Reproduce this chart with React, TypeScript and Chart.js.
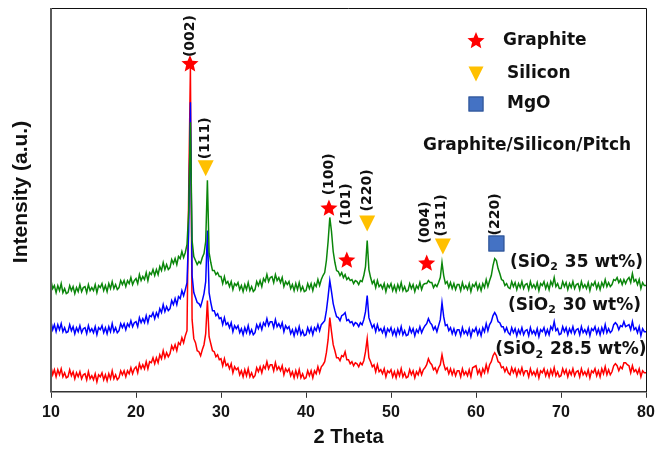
import React, { useEffect, useRef } from 'react';
import { Chart, registerables } from 'chart.js';

Chart.register(...registerables);

// 2-theta sampling: first angle and step (degrees)
const START_ANGLE = 10;
const STEP = 0.2;

// Intensities (a.u., offset traces as plotted), one value per 0.2 deg from 10 to 80
const redCounts = [
  25, 17, 22, 15, 22, 17, 23, 15, 19, 14,
  15, 22, 16, 20, 13, 19, 15, 20, 13, 17,
  18, 12, 20, 13, 16, 12, 18, 10, 17, 15,
  19, 12, 17, 11, 18, 13, 21, 13, 17, 12,
  14, 21, 17, 21, 15, 21, 18, 24, 18, 23,
  25, 19, 28, 23, 27, 23, 30, 23, 30, 29,
  34, 28, 34, 29, 37, 33, 41, 34, 39, 35,
  38, 46, 42, 47, 41, 49, 47, 54, 49, 56,
  61, 200, 323, 72, 53, 49, 41, 40, 36, 42,
  47, 58, 91, 55, 48, 41, 40, 35, 37, 32,
  33, 26, 33, 26, 28, 23, 28, 19, 25, 22,
  24, 17, 21, 15, 22, 16, 23, 15, 19, 14,
  16, 24, 20, 25, 19, 26, 23, 30, 23, 27,
  27, 21, 29, 22, 25, 21, 26, 17, 23, 20,
  23, 16, 20, 14, 21, 15, 22, 14, 18, 13,
  14, 21, 16, 21, 14, 21, 18, 25, 19, 25,
  27, 30, 39, 52, 74, 60, 47, 41, 34, 34,
  31, 36, 35, 40, 32, 32, 28, 30, 26, 29,
  28, 25, 29, 27, 31, 40, 53, 34, 30, 25,
  27, 20, 27, 20, 22, 18, 23, 15, 21, 19,
  22, 15, 20, 14, 21, 16, 23, 15, 19, 14,
  15, 22, 17, 21, 14, 20, 17, 23, 17, 22,
  24, 27, 33, 29, 27, 22, 24, 19, 24, 27,
  37, 28, 22, 24, 18, 23, 17, 22, 16, 21,
  21, 15, 23, 17, 20, 16, 22, 15, 24, 25,
  26, 18, 22, 16, 23, 19, 27, 20, 27, 30,
  36, 39, 36, 30, 29, 24, 25, 20, 24, 19,
  17, 24, 19, 23, 16, 22, 18, 24, 17, 21,
  21, 15, 23, 17, 20, 16, 22, 14, 21, 19,
  23, 16, 21, 15, 22, 17, 24, 16, 20, 15,
  16, 23, 18, 22, 15, 21, 17, 23, 16, 20,
  21, 15, 23, 17, 20, 16, 22, 14, 21, 19,
  23, 16, 21, 15, 23, 18, 25, 17, 22, 17,
  20, 26, 28, 26, 21, 25, 23, 29, 29, 27,
  26, 19, 26, 20, 22, 18, 23, 15, 21, 19,
  19,
];

const blueCounts = [
  70, 62, 67, 60, 67, 62, 68, 60, 64, 59,
  60, 67, 61, 65, 58, 64, 60, 66, 59, 63,
  64, 58, 66, 60, 63, 59, 65, 57, 64, 62,
  66, 59, 64, 58, 65, 60, 68, 60, 64, 59,
  61, 68, 64, 68, 62, 68, 65, 71, 65, 69,
  70, 65, 74, 69, 73, 69, 76, 69, 76, 75,
  79, 73, 79, 75, 83, 79, 87, 80, 85, 81,
  83, 91, 87, 93, 87, 95, 93, 101, 96, 102,
  109, 160, 289, 116, 99, 94, 89, 88, 85, 91,
  98, 110, 161, 99, 89, 81, 81, 76, 78, 73,
  74, 67, 74, 67, 69, 64, 69, 60, 66, 63,
  66, 59, 63, 57, 64, 59, 66, 58, 62, 57,
  59, 67, 63, 68, 62, 69, 66, 73, 66, 70,
  70, 64, 72, 65, 68, 64, 69, 60, 66, 63,
  65, 58, 62, 56, 63, 58, 65, 57, 61, 56,
  57, 64, 59, 64, 57, 64, 61, 67, 61, 67,
  69, 71, 81, 95, 111, 100, 88, 81, 75, 74,
  71, 76, 77, 79, 71, 72, 69, 70, 66, 69,
  68, 65, 69, 67, 72, 80, 96, 74, 69, 64,
  67, 60, 67, 61, 63, 59, 64, 56, 63, 60,
  64, 57, 62, 56, 63, 58, 65, 57, 61, 56,
  57, 64, 59, 63, 56, 62, 59, 65, 59, 63,
  66, 68, 73, 69, 67, 62, 65, 60, 66, 72,
  89, 75, 66, 67, 61, 64, 58, 63, 57, 62,
  62, 56, 64, 58, 61, 57, 63, 55, 62, 60,
  64, 57, 62, 56, 64, 60, 68, 61, 67, 70,
  76, 79, 76, 70, 69, 65, 65, 60, 64, 59,
  57, 64, 59, 63, 56, 62, 58, 64, 57, 61,
  62, 56, 64, 58, 61, 57, 63, 55, 62, 60,
  64, 57, 62, 57, 65, 62, 70, 61, 63, 57,
  58, 65, 60, 64, 57, 63, 59, 65, 58, 62,
  63, 57, 65, 59, 62, 58, 64, 56, 63, 61,
  65, 58, 63, 57, 64, 59, 67, 59, 63, 59,
  61, 67, 69, 67, 62, 66, 65, 70, 65, 66,
  67, 62, 70, 62, 64, 59, 65, 56, 63, 60,
  60,
];

const greenCounts = [
  111, 103, 106, 99, 106, 101, 108, 99, 103, 98,
  99, 106, 101, 105, 98, 104, 100, 107, 100, 104,
  105, 99, 107, 101, 104, 101, 107, 99, 106, 104,
  108, 101, 106, 100, 108, 103, 110, 103, 107, 102,
  104, 111, 107, 111, 105, 111, 108, 114, 107, 111,
  113, 108, 117, 111, 115, 112, 119, 111, 119, 117,
  122, 116, 122, 117, 125, 121, 129, 122, 127, 122,
  124, 132, 128, 133, 127, 135, 133, 140, 134, 139,
  147, 180, 269, 151, 135, 131, 127, 130, 128, 134,
  138, 150, 211, 139, 129, 121, 121, 117, 119, 115,
  115, 108, 115, 108, 110, 105, 110, 102, 108, 106,
  109, 102, 106, 100, 107, 102, 109, 101, 105, 100,
  102, 110, 106, 111, 105, 113, 110, 117, 110, 114,
  115, 109, 117, 111, 114, 109, 114, 105, 110, 107,
  110, 103, 107, 101, 108, 102, 109, 101, 105, 100,
  101, 108, 103, 108, 101, 108, 105, 112, 106, 112,
  116, 119, 131, 150, 174, 160, 140, 129, 121, 120,
  116, 119, 114, 117, 112, 114, 111, 112, 108, 111,
  110, 107, 111, 110, 116, 125, 151, 122, 114, 108,
  111, 104, 111, 105, 107, 103, 108, 100, 107, 104,
  108, 101, 106, 100, 107, 102, 109, 101, 105, 100,
  101, 108, 103, 107, 100, 106, 103, 109, 102, 107,
  108, 108, 111, 109, 109, 104, 107, 105, 109, 114,
  129, 116, 108, 110, 104, 109, 103, 108, 102, 107,
  107, 101, 109, 103, 106, 102, 108, 100, 107, 105,
  109, 102, 107, 101, 108, 104, 112, 105, 111, 116,
  126, 133, 131, 123, 118, 112, 111, 106, 108, 104,
  103, 110, 105, 109, 102, 108, 104, 110, 103, 107,
  108, 102, 110, 104, 107, 103, 109, 101, 108, 106,
  110, 103, 108, 102, 110, 106, 114, 105, 108, 103,
  103, 110, 105, 109, 102, 108, 104, 110, 103, 107,
  108, 102, 110, 104, 107, 103, 109, 101, 108, 106,
  110, 103, 108, 102, 109, 105, 112, 105, 109, 105,
  107, 112, 111, 114, 109, 112, 107, 112, 108, 112,
  114, 109, 118, 110, 112, 107, 112, 103, 109, 106,
  106,
];

const xTickValues = [10, 20, 30, 40, 50, 60, 70, 80];

// Series labels: text with subscript marked by |, left x (deg), centre y (a.u.)
const seriesLabelText = ['(SiO|2| 35 wt%)', '(SiO|2| 30 wt%)', '(SiO|2| 28.5 wt%)'];
const seriesLabelX = [64.0, 63.75, 62.25];
const seriesLabelY = [129, 86, 42];

// Phase markers [2theta, y]
const graphiteMarks = [[26.35, 327], [42.7, 183], [44.8, 131], [54.2, 128]];
const siliconMarks = [[28.2, 223], [47.2, 168], [56.1, 145]];
const mgoMarks = [[62.4, 148]];

// Miller index labels (rotated), centre positions
const hklText = ['(002)', '(111)', '(100)', '(101)', '(220)', '(004)', '(311)', '(220)'];
const hklX = [26.35, 28.2, 42.7, 44.8, 47.2, 54.1, 55.9, 62.3];
const hklY = [355, 253, 217, 187, 201, 169, 176, 177];

const legendItems = ['Graphite', 'Silicon', 'MgO'];
const legendTitle = 'Graphite/Silicon/Pitch';

const RED = '#ff0000';
const BLUE = '#0000ff';
const GREEN = '#0a860a';
const GOLD = '#ffc000';
const SQUARE = '#4472c4';

const LABEL_FONT = "'DejaVu Sans', 'Noto Sans', sans-serif";

function toPoints(values: number[]) {
  return values.map((v, i) => ({ x: START_ANGLE + i * STEP, y: v }));
}

function drawStar(ctx: CanvasRenderingContext2D, cx: number, cy: number, R: number) {
  const r = R * 0.45;
  ctx.beginPath();
  for (let k = 0; k < 10; k++) {
    const rad = k % 2 === 0 ? R : r;
    const a = -Math.PI / 2 + (k * Math.PI) / 5;
    const px = cx + rad * Math.cos(a);
    const py = cy + rad * Math.sin(a);
    if (k === 0) ctx.moveTo(px, py);
    else ctx.lineTo(px, py);
  }
  ctx.closePath();
  ctx.fillStyle = RED;
  ctx.fill();
}

function drawTriangle(ctx: CanvasRenderingContext2D, cx: number, cy: number, w: number, h: number) {
  ctx.beginPath();
  ctx.moveTo(cx - w / 2, cy - h / 2);
  ctx.lineTo(cx + w / 2, cy - h / 2);
  ctx.lineTo(cx, cy + h / 2);
  ctx.closePath();
  ctx.fillStyle = GOLD;
  ctx.fill();
}

function drawSquare(ctx: CanvasRenderingContext2D, cx: number, cy: number, s: number) {
  ctx.fillStyle = SQUARE;
  ctx.fillRect(cx - s / 2, cy - s / 2, s, s);
  ctx.strokeStyle = '#2f528f';
  ctx.lineWidth = 1;
  ctx.strokeRect(cx - s / 2 + 0.5, cy - s / 2 + 0.5, s - 1, s - 1);
}

const annotationPlugin = {
  id: 'xrdAnnotations',
  afterDraw(chart: any) {
    const { ctx, chartArea: a, scales } = chart;
    const xs = scales.x;
    const ys = scales.y;
    ctx.save();

    // frame: top & right thin black, left thicker grey
    ctx.strokeStyle = '#111';
    ctx.lineWidth = 1;
    ctx.beginPath();
    ctx.moveTo(a.left, a.top + 0.5);
    ctx.lineTo(a.right + 0.5, a.top + 0.5);
    ctx.lineTo(a.right + 0.5, a.bottom);
    ctx.stroke();
    ctx.strokeStyle = '#5a5a5a';
    ctx.lineWidth = 2;
    ctx.beginPath();
    ctx.moveTo(a.left, a.top);
    ctx.lineTo(a.left, a.bottom);
    ctx.stroke();

    // y-axis title
    ctx.save();
    ctx.translate(21, 192);
    ctx.rotate(-Math.PI / 2);
    ctx.fillStyle = '#111';
    ctx.font = "bold 21px 'Liberation Sans', Arial, sans-serif";
    ctx.textAlign = 'center';
    ctx.textBaseline = 'middle';
    ctx.fillText('Intensity (a.u.)', 0, 0);
    ctx.restore();

    // markers on peaks
    graphiteMarks.forEach(([gx, gy]) => drawStar(ctx, xs.getPixelForValue(gx), ys.getPixelForValue(gy), 9));
    siliconMarks.forEach(([sx, sy]) => drawTriangle(ctx, xs.getPixelForValue(sx), ys.getPixelForValue(sy), 16, 16));
    mgoMarks.forEach(([mx, my]) => drawSquare(ctx, xs.getPixelForValue(mx), ys.getPixelForValue(my), 16));

    // hkl labels
    ctx.fillStyle = '#111';
    ctx.font = `bold 14px ${LABEL_FONT}`;
    ctx.textAlign = 'center';
    ctx.textBaseline = 'middle';
    hklText.forEach((t, i) => {
      ctx.save();
      ctx.translate(xs.getPixelForValue(hklX[i]), ys.getPixelForValue(hklY[i]));
      ctx.rotate(-Math.PI / 2);
      ctx.fillText(t, 0, 0);
      ctx.restore();
    });

    // legend (inside plot, top right)
    const lx = 476;
    const legendY = [41, 74, 104];
    drawStar(ctx, lx, legendY[0], 9);
    drawTriangle(ctx, lx, legendY[1], 15, 15);
    drawSquare(ctx, lx, legendY[2], 15);
    ctx.font = `bold 17px ${LABEL_FONT}`;
    ctx.textAlign = 'left';
    ctx.textBaseline = 'middle';
    ctx.fillStyle = '#111';
    ctx.fillText(legendItems[0], 503, legendY[0]);
    ctx.fillText(legendItems[1], 507, legendY[1]);
    ctx.fillText(legendItems[2], 507, legendY[2]);
    ctx.fillText(legendTitle, 423, 146);

    // series labels with subscript
    seriesLabelText.forEach((t, i) => {
      const [pre, sub, post] = t.split('|');
      let px = xs.getPixelForValue(seriesLabelX[i]);
      const py = ys.getPixelForValue(seriesLabelY[i]);
      ctx.font = `bold 17px ${LABEL_FONT}`;
      ctx.fillText(pre, px, py);
      px += ctx.measureText(pre).width;
      ctx.font = `bold 11px ${LABEL_FONT}`;
      ctx.fillText(sub, px, py + 5);
      px += ctx.measureText(sub).width + 1;
      ctx.font = `bold 17px ${LABEL_FONT}`;
      ctx.fillText(post, px, py);
    });

    ctx.restore();
  },
};

export default function App() {
  const canvasRef = useRef<HTMLCanvasElement | null>(null);

  useEffect(() => {
    const canvas = canvasRef.current;
    if (!canvas) return;
    const chart = new Chart(canvas, {
      type: 'line',
      data: {
        datasets: [
          { label: 'SiO2 35 wt%', data: toPoints(greenCounts), borderColor: GREEN, borderWidth: 1.5, pointRadius: 0, tension: 0, fill: false },
          { label: 'SiO2 30 wt%', data: toPoints(blueCounts), borderColor: BLUE, borderWidth: 1.5, pointRadius: 0, tension: 0, fill: false },
          { label: 'SiO2 28.5 wt%', data: toPoints(redCounts), borderColor: RED, borderWidth: 1.5, pointRadius: 0, tension: 0, fill: false },
        ],
      },
      options: {
        responsive: false,
        animation: false,
        devicePixelRatio: 1,
        layout: { padding: { left: 51, right: 24, top: 8, bottom: 1 } },
        plugins: { legend: { display: false }, tooltip: { enabled: false } },
        scales: {
          x: {
            type: 'linear',
            min: 10,
            max: 80,
            afterBuildTicks: (scale: any) => {
              scale.ticks = xTickValues.map((v) => ({ value: v }));
            },
            grid: { drawOnChartArea: false, drawTicks: true, tickLength: 6, color: '#333', lineWidth: 1 },
            border: { display: true, color: '#333', width: 1.5 },
            ticks: {
              color: '#151515',
              padding: 5,
              maxRotation: 0,
              font: { family: "'Liberation Sans Narrow', 'Liberation Sans', Arial, sans-serif", size: 16, weight: 'bold' },
            },
            title: {
              display: true,
              text: '2 Theta',
              color: '#111',
              padding: { top: -2, bottom: 0 },
              font: { family: "'Liberation Sans', Arial, sans-serif", size: 20, weight: 'bold' },
            },
          },
          y: {
            display: false,
            min: 0,
            max: 383,
          },
        },
      },
      plugins: [annotationPlugin],
    });
    return () => chart.destroy();
  }, []);

  return (
    <div style={{ position: 'fixed', left: 0, top: 0, width: 670, height: 450, background: '#fff' }}>
      <canvas ref={canvasRef} width={670} height={450} style={{ width: 670, height: 450 }} />
    </div>
  );
}
